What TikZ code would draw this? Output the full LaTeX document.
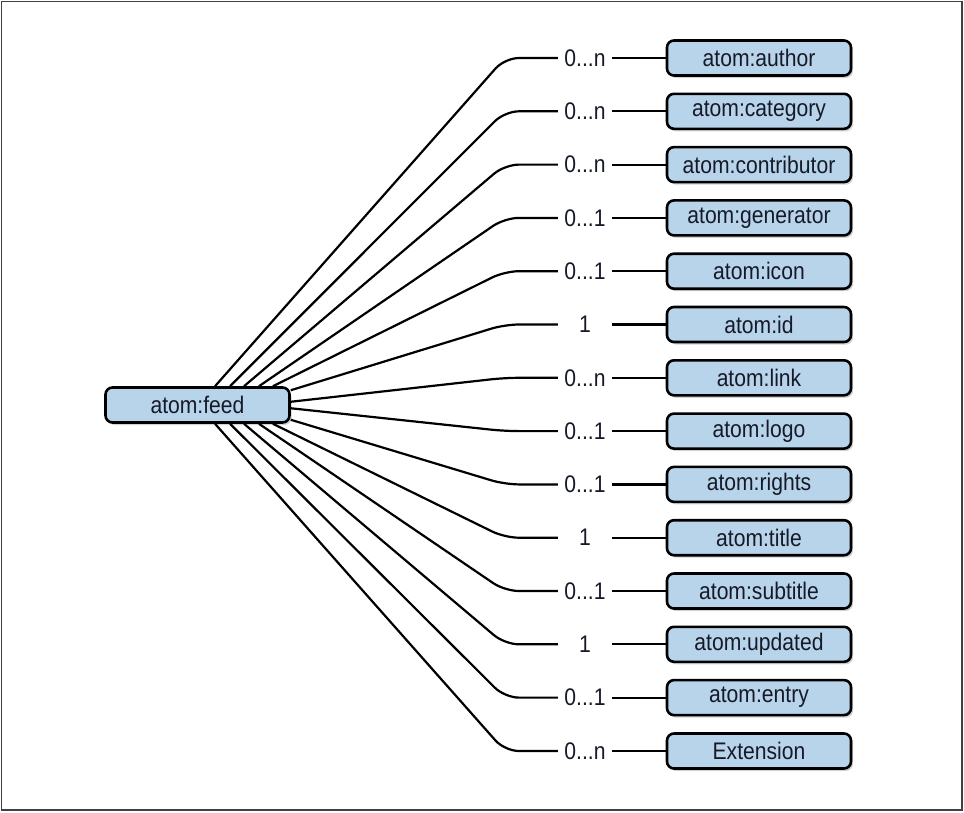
\documentclass[tikz,border=0pt]{standalone}
\usepackage{fontspec}
\setmainfont{Liberation Sans}[FakeStretch=0.88]
\usepackage{tikz}
\usetikzlibrary{positioning, shadows}
\definecolor{boxblue}{RGB}{184,212,234}
\definecolor{inkblue}{RGB}{22,26,40}

\begin{document}
\begin{tikzpicture}[x=1pt, y=-1pt,
	elem_node/.style={rectangle, rounded corners=7pt, fill=boxblue, draw=black, line width=2.6pt, minimum width=184pt, minimum height=35pt, inner sep=0pt, text=inkblue, font=\fontsize{24}{28}\selectfont, drop shadow={shadow xshift=2pt, shadow yshift=-2.5pt, opacity=0.35}},
	card_node/.style={minimum width=54pt, inner sep=0pt, text=inkblue, font=\fontsize{24}{28}\selectfont},
	edge_line/.style={line width=2.2pt, rounded corners=14pt}]
				\useasboundingbox (0,0) rectangle (964,812);
				\draw[line width=1.5pt, black!75] (1.5,1.5) rectangle (962,810);
				
				\node[elem_node] (feed) at (197.5,405) {atom:feed};
				
				\node[elem_node] (a1) at (759,58) {atom:author};
				\node[elem_node] (a2) at (759,111.3) {atom:category};
				\node[elem_node] (a3) at (759,164.6) {atom:contributor};
				\node[elem_node] (a4) at (759,217.9) {atom:generator};
				\node[elem_node] (a5) at (759,271.2) {atom:icon};
				\node[elem_node] (a6) at (759,324.5) {atom:id};
				\node[elem_node] (a7) at (759,377.8) {atom:link};
				\node[elem_node] (a8) at (759,431.1) {atom:logo};
				\node[elem_node] (a9) at (759,484.4) {atom:rights};
				\node[elem_node] (a10) at (759,537.7) {atom:title};
				\node[elem_node] (a11) at (759,591) {atom:subtitle};
				\node[elem_node] (a12) at (759,644.3) {atom:updated};
				\node[elem_node] (a13) at (759,697.6) {atom:entry};
				\node[elem_node] (a14) at (759,751) {Extension};
				
				\node[card_node] (c1) at (585,58) {0...n};
				\node[card_node] (c2) at (585,111.3) {0...n};
				\node[card_node] (c3) at (585,164.6) {0...n};
				\node[card_node] (c4) at (585,217.9) {0...1};
				\node[card_node] (c5) at (585,271.2) {0...1};
				\node[card_node] (c6) at (585,324.5) {1};
				\node[card_node] (c7) at (585,377.8) {0...n};
				\node[card_node] (c8) at (585,431.1) {0...1};
				\node[card_node] (c9) at (585,484.4) {0...1};
				\node[card_node] (c10) at (585,537.7) {1};
				\node[card_node] (c11) at (585,591) {0...1};
				\node[card_node] (c12) at (585,644.3) {1};
				\node[card_node] (c13) at (585,697.6) {0...1};
				\node[card_node] (c14) at (585,751) {0...n};
				
				\draw[edge_line] (c1.west) -- ++(-53,0) -- (feed.47);
				\draw[edge_line] (c2.west) -- ++(-53,0) -- (feed.30);
				\draw[edge_line] (c3.west) -- ++(-53,0) -- (feed.22);
				\draw[edge_line] (c4.west) -- ++(-53,0) -- (feed.17);
				\draw[edge_line] (c5.west) -- ++(-53,0) -- (feed.14);
				\draw[edge_line] (c6.west) -- ++(-53,0) -- (feed.9);
				\draw[edge_line] (c7.west) -- ++(-53,0) -- (feed.2);
				\draw[edge_line] (c8.west) -- ++(-53,0) -- (feed.-2);
				\draw[edge_line] (c9.west) -- ++(-53,0) -- (feed.-9);
				\draw[edge_line] (c10.west) -- ++(-53,0) -- (feed.-14);
				\draw[edge_line] (c11.west) -- ++(-53,0) -- (feed.-17);
				\draw[edge_line] (c12.west) -- ++(-53,0) -- (feed.-22);
				\draw[edge_line] (c13.west) -- ++(-53,0) -- (feed.-30);
				\draw[edge_line] (c14.west) -- ++(-53,0) -- (feed.-47);
				
				\path[edge_line, draw]
				(c1.east) edge (a1.west)
				(c2.east) edge (a2.west)
				(c3.east) edge (a3.west)
				(c4.east) edge (a4.west)
				(c5.east) edge (a5.west)
				(c6.east) edge (a6.west)
				(c7.east) edge (a7.west)
				(c8.east) edge (a8.west)
				(c9.east) edge (a9.west)
				(c10.east) edge (a10.west)
				(c11.east) edge (a11.west)
				(c12.east) edge (a12.west)
				(c13.east) edge (a13.west)
				(c14.east) edge (a14.west);
			\end{tikzpicture}
\end{document}
